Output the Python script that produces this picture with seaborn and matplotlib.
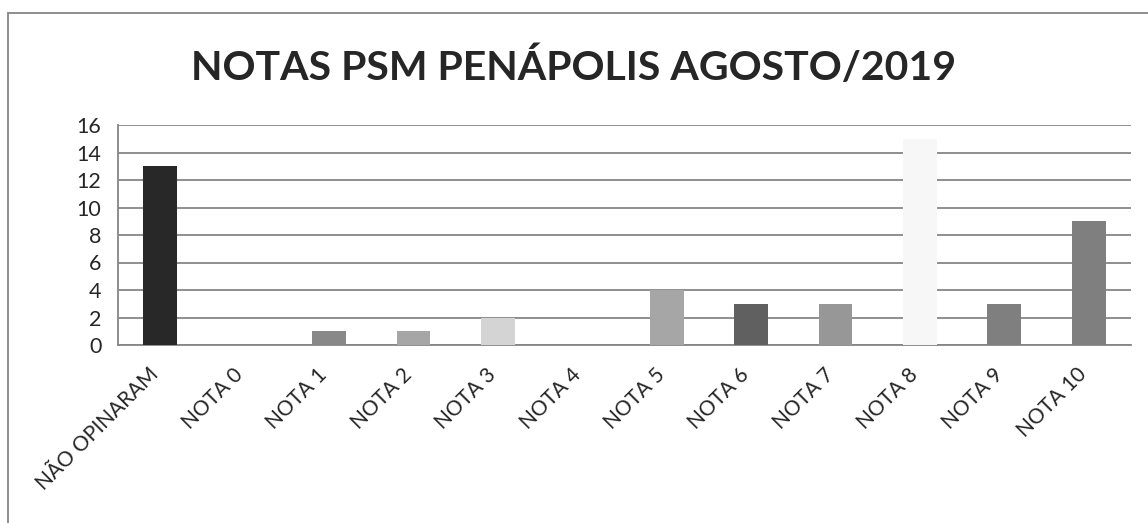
import matplotlib
matplotlib.use('Agg')
import matplotlib.pyplot as plt
import matplotlib.transforms as mtransforms
from matplotlib.lines import Line2D
import seaborn as sns
import pandas as pd

categories = ['NÃO OPINARAM', 'NOTA 0', 'NOTA 1', 'NOTA 2', 'NOTA 3', 'NOTA 4',
              'NOTA 5', 'NOTA 6', 'NOTA 7', 'NOTA 8', 'NOTA 9', 'NOTA 10']
counts = [13, 0, 1, 1, 2, 0, 4, 3, 3, 15, 3, 9]
bar_colors = ['#282828', '#ffffff', '#888888', '#a6a6a6', '#d4d4d4', '#ffffff',
              '#a6a6a6', '#606060', '#979797', '#f7f7f7', '#7f7f7f', '#7f7f7f']
title = 'NOTAS PSM PENÁPOLIS AGOSTO/2019'
y_ticks = list(range(0, 17, 2))

sns.set_style("white")
plt.rcParams['font.family'] = ['Lato', 'DejaVu Sans']

df = pd.DataFrame({'cat': categories, 'n': counts})

fig = plt.figure(figsize=(11.48, 5.23), dpi=100)
ax = fig.add_axes([118 / 1148, 1 - 345 / 523, (1131 - 118) / 1148, (345 - 125) / 523])
grid_c = '#868686'

sns.barplot(data=df, x='cat', y='n', hue='cat', palette=bar_colors, legend=False,
            width=0.4, saturation=1, ax=ax, zorder=3, edgecolor='none')

ax.set_ylim(0, 16)
ax.set_xlim(-0.5, len(categories) - 0.5)
ax.set_yticks(y_ticks)
ax.yaxis.grid(True, color=grid_c, linewidth=1.3, zorder=0)
ax.set_axisbelow(True)
ax.set_xlabel('')
ax.set_ylabel('')
for s in ['top', 'right']:
    ax.spines[s].set_visible(False)
for s in ['left', 'bottom']:
    ax.spines[s].set_color(grid_c)
    ax.spines[s].set_linewidth(1.3)

# ticks between categories, like the original
ax.set_xticks([i + 0.5 for i in range(-1, len(categories))], minor=True)
ax.tick_params(axis='x', which='minor', length=7, color=grid_c, width=1.3, direction='out')
ax.tick_params(axis='x', which='major', length=0, pad=14)
ax.tick_params(axis='y', length=7, color=grid_c, width=1.3, direction='out', labelsize=15.5, pad=5)
ax.set_xticks(range(len(categories)))
ax.set_xticklabels(categories, rotation=45, ha='right', va='top', rotation_mode='anchor',
                   fontsize=15)
shift = mtransforms.ScaledTranslation(-12 / 100, 0, fig.dpi_scale_trans)
for lbl in ax.get_xticklabels():
    lbl.set_transform(lbl.get_transform() + shift)

fig.text(0.5, 1 - 67 / 523, title, ha='center', va='center', fontsize=29.5, fontweight='bold')

# chart frame (left and top edges visible)
fig.add_artist(Line2D([8 / 1148, 8 / 1148], [0, 1 - 13 / 523], transform=fig.transFigure,
                      color=grid_c, linewidth=1.3))
fig.add_artist(Line2D([8 / 1148, 1], [1 - 13 / 523, 1 - 13 / 523], transform=fig.transFigure,
                      color=grid_c, linewidth=1.3))

fig.savefig('out.png', dpi=100)
